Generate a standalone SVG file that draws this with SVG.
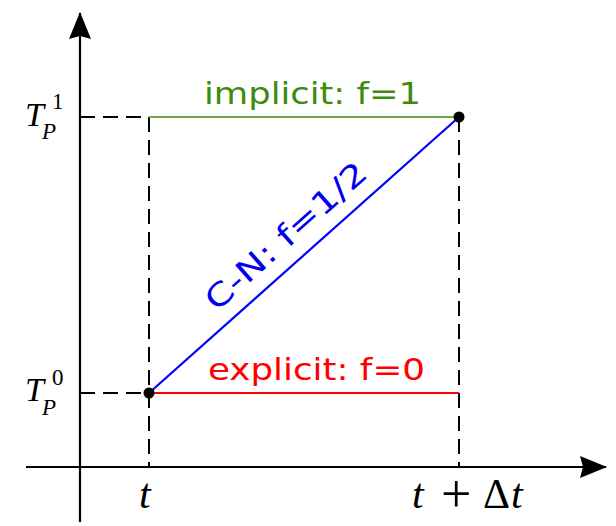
<svg xmlns="http://www.w3.org/2000/svg" width="616" height="526" viewBox="0 0 616 526">
<style>
.axis{stroke:#000;stroke-width:2.2;fill:none}
.dash{stroke:#000;stroke-width:2;stroke-dasharray:15 8;fill:none}
.lbl{font-family:"DejaVu Sans","Verdana",sans-serif;font-size:31px}
.math{font-family:"Liberation Serif","Times New Roman",serif;font-style:italic;fill:#000}
.up{font-family:"Liberation Serif","Times New Roman",serif;font-style:normal;fill:#000}
</style>
<defs>
<marker id="arr" markerWidth="28" markerHeight="22" refX="26" refY="11" orient="auto" markerUnits="userSpaceOnUse">
<path d="M0,0 L27,11 L0,22 L3,11 Z" fill="#000"/>
</marker>
</defs>
<rect width="616" height="526" fill="#fff"/>
<g id="connectors">
<line class="axis" x1="80" y1="522" x2="80" y2="13" marker-end="url(#arr)"/>
<line class="axis" x1="26" y1="467" x2="606" y2="467" marker-end="url(#arr)"/>
<line class="dash" x1="80" y1="117" x2="149" y2="117"/>
<line class="dash" x1="80" y1="393" x2="149" y2="393"/>
<line class="dash" x1="149" y1="117" x2="149" y2="467"/>
<line class="dash" x1="459" y1="117" x2="459" y2="467"/>
<line class="dash" x1="149" y1="117" x2="459" y2="117"/>
<line x1="149" y1="117" x2="459" y2="117" stroke="#6fa845" stroke-width="2.2"/>
<line x1="149" y1="393" x2="459" y2="393" stroke="#ff0000" stroke-width="2.2"/>
<line x1="149" y1="393" x2="459" y2="117" stroke="#0000ff" stroke-width="2.2"/>
</g>
<g id="p0"><circle cx="149" cy="393" r="5.5" fill="#000"/></g>
<g id="p1"><circle cx="459" cy="117" r="5.5" fill="#000"/></g>
<g id="implicit"><text class="lbl" x="204" y="104" fill="#3d8c10" textLength="217" lengthAdjust="spacingAndGlyphs">implicit: f=1</text></g>
<g id="explicit"><text class="lbl" x="208" y="380" fill="#ff0000" textLength="217" lengthAdjust="spacingAndGlyphs">explicit: f=0</text></g>
<g id="cn"><text class="lbl" transform="translate(293,244) rotate(-41.68)" text-anchor="middle" fill="#0000ee" textLength="205" lengthAdjust="spacingAndGlyphs">C-N: f=1/2</text></g>
<g id="tp1">
<text class="math" x="25" y="126" font-size="34">T</text>
<text class="math" x="42" y="139" font-size="23">P</text>
<text class="up" x="52" y="109" font-size="23">1</text>
</g>
<g id="tp0">
<text class="math" x="25" y="401" font-size="34">T</text>
<text class="math" x="42" y="415" font-size="23">P</text>
<text class="up" x="52" y="385" font-size="23">0</text>
</g>
<g id="t"><text class="math" x="139" y="508" font-size="42">t</text></g>
<g id="tdt">
<text class="math" x="412" y="508" font-size="42">t</text>
<text class="up" x="441" y="512" font-size="54">+</text>
<text class="up" x="483" y="508" font-size="42">Δ</text>
<text class="math" x="511" y="508" font-size="42">t</text>
</g>
</svg>
